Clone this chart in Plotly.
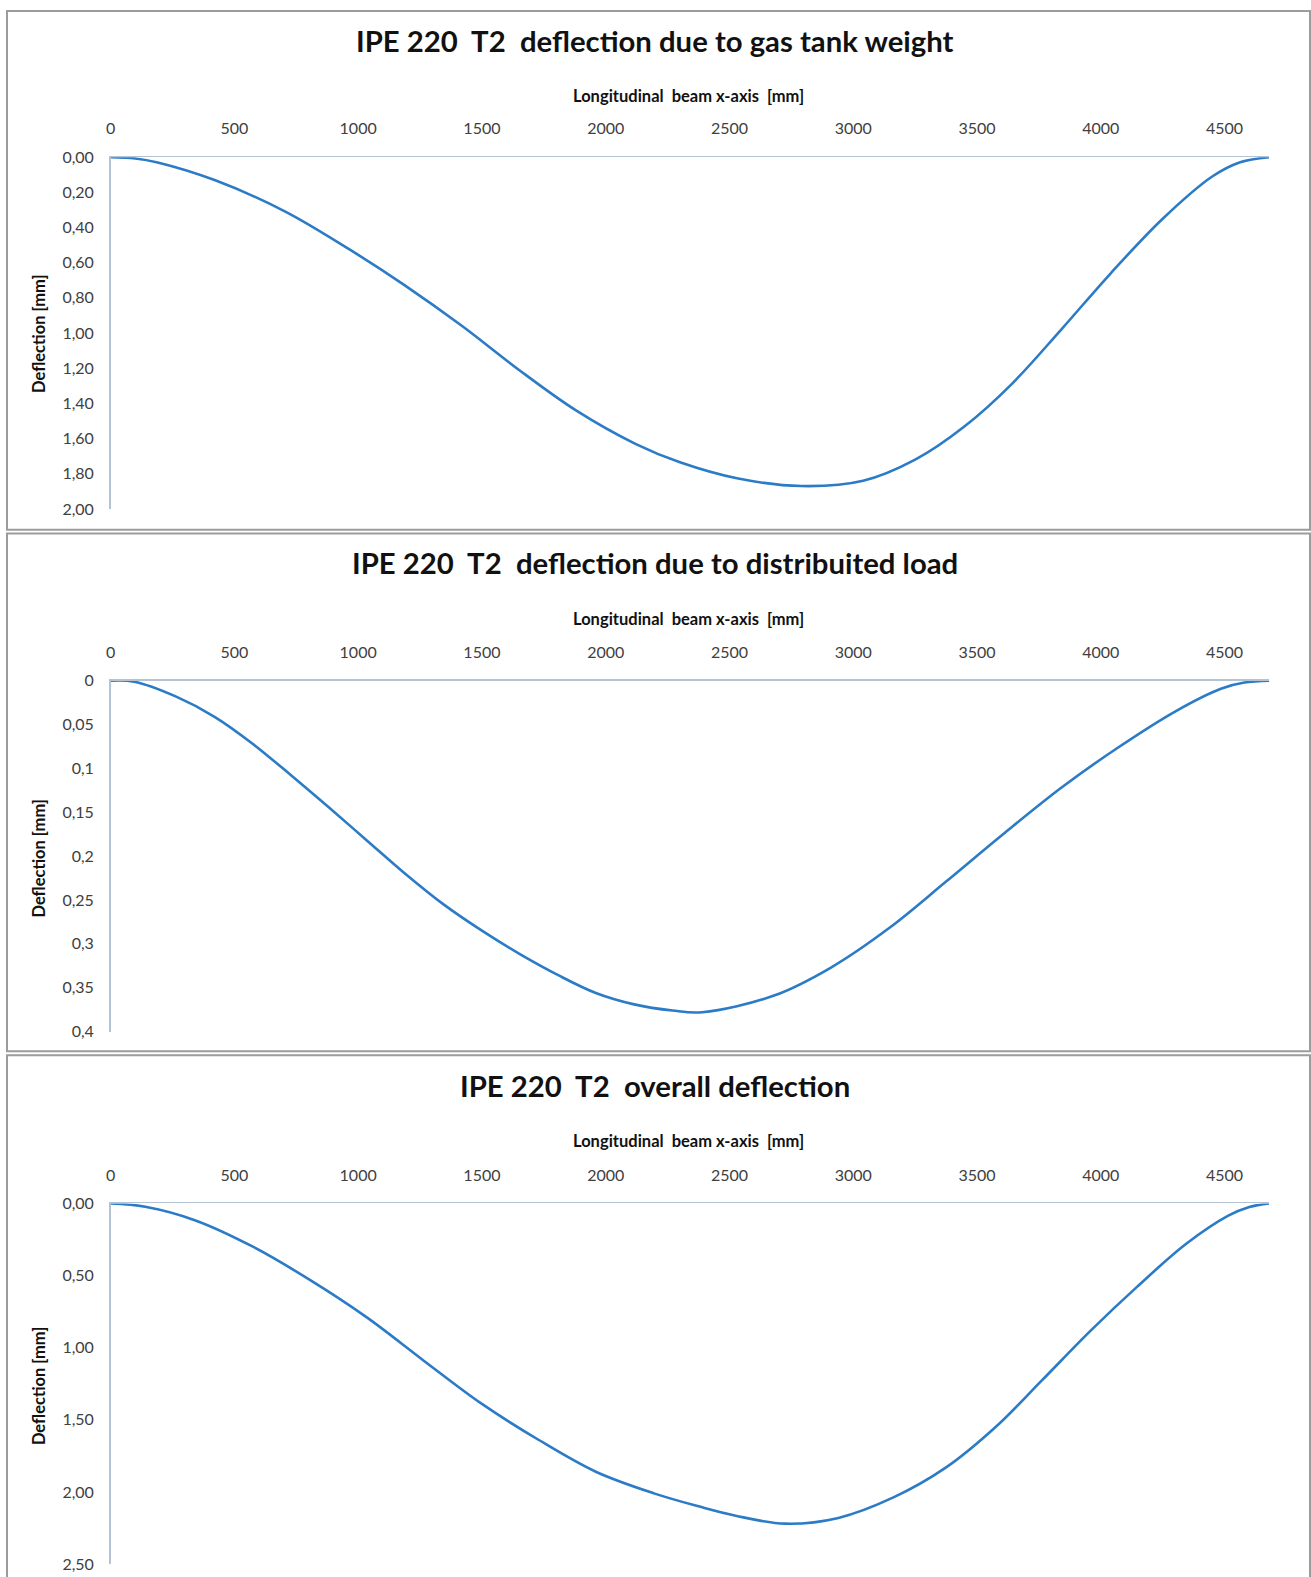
import plotly.graph_objects as go

# ---------------- data ----------------
x_gas = [0, 100, 190, 420, 700, 960, 1190, 1420, 1650, 1880, 2120, 2300, 2530, 2790,
         3040, 3250, 3450, 3640, 3840, 4040, 4250, 4450, 4560, 4680]
y_gas = [0, 0.007, 0.03, 0.13, 0.305, 0.52, 0.73, 0.96, 1.21, 1.44, 1.63, 1.735, 1.826, 1.87,
         1.84, 1.72, 1.53, 1.29, 0.98, 0.66, 0.35, 0.11, 0.03, 0]

x_dist = [0, 95, 265, 420, 575, 730, 880, 1035, 1190, 1345, 1500, 1655, 1810, 1960, 2115,
          2270, 2390, 2680, 2910, 3145, 3375, 3605, 3840, 4070, 4300, 4485, 4580, 4680]
y_dist = [0, 0.001, 0.018, 0.041, 0.072, 0.108, 0.144, 0.182, 0.220, 0.255, 0.285, 0.312,
          0.336, 0.356, 0.369, 0.376, 0.378, 0.359, 0.327, 0.282, 0.229, 0.175, 0.122,
          0.076, 0.035, 0.009, 0.002, 0]

x_all = [0, 140, 340, 575, 805, 1035, 1265, 1500, 1730, 1960, 2195, 2375, 2525, 2725, 2940,
         3160, 3375, 3575, 3760, 3960, 4145, 4345, 4515, 4600, 4680]
y_all = [0, 0.023, 0.116, 0.30, 0.53, 0.79, 1.09, 1.39, 1.64, 1.86, 2.01, 2.10, 2.165, 2.22,
         2.18, 2.04, 1.83, 1.55, 1.23, 0.88, 0.58, 0.28, 0.085, 0.025, 0]

x_ticks = [0, 500, 1000, 1500, 2000, 2500, 3000, 3500, 4000, 4500]

y1_ticks = [0, 0.2, 0.4, 0.6, 0.8, 1.0, 1.2, 1.4, 1.6, 1.8, 2.0]
y1_text = ["0,00", "0,20", "0,40", "0,60", "0,80", "1,00", "1,20", "1,40", "1,60", "1,80", "2,00"]
y2_ticks = [0, 0.05, 0.1, 0.15, 0.2, 0.25, 0.3, 0.35, 0.4]
y2_text = ["0", "0,05", "0,1", "0,15", "0,2", "0,25", "0,3", "0,35", "0,4"]
y3_ticks = [0, 0.5, 1.0, 1.5, 2.0, 2.5]
y3_text = ["0,00", "0,50", "1,00", "1,50", "2,00", "2,50"]

titles = ["IPE 220\u00a0 T2\u00a0 deflection due to gas tank weight",
          "IPE 220\u00a0 T2\u00a0 deflection due to distribuited load",
          "IPE 220\u00a0 T2\u00a0 overall deflection"]
x_title = "Longitudinal\u00a0 beam x-axis\u00a0 [mm]"
y_title = "Deflection [mm]"

# ---------------- styling / layout ----------------
W, H = 1311, 1577
FONT = "Lato"
LINE_COLOR = "#2b7bc6"
AXIS_COLOR = "#b3c3d3"
TICK_COLOR = "#404040"
X_MAX = 4680

def py(p):
    return 1 - p / H

def px(p):
    return p / W

x_dom = [px(106), px(1269)]
y_doms = [[py(505), py(149)], [py(1034), py(679)], [py(1573), py(1208)]]
y_ranges = [[2.0, 0], [0.4, 0], [2.5, 0]]
y_tick_sets = [(y1_ticks, y1_text), (y2_ticks, y2_text), (y3_ticks, y3_text)]
series = [(x_gas, y_gas), (x_dist, y_dist), (x_all, y_all)]

fig = go.Figure()
layout = dict(
    width=W, height=H,
    margin=dict(l=0, r=0, t=0, b=0),
    paper_bgcolor="white", plot_bgcolor="white",
    showlegend=False,
    font=dict(family=FONT, color=TICK_COLOR),
)

annotations = []
shapes = []
panel_boxes = [(1, 526), (530, 1054), (1058, 1600)]
title_y = [31, 559, 1089]
xtitle_y = [87, 616, 1145]
ytitle_y = [327, 858, 1392]

for i in range(3):
    n = "" if i == 0 else str(i + 1)
    xs, ys = series[i]
    fig.add_trace(go.Scatter(
        x=xs, y=ys, mode="lines",
        line=dict(color=LINE_COLOR, width=2.6, shape="spline", smoothing=1.0),
        xaxis="x" + n, yaxis="y" + n, hoverinfo="skip"))

    layout["xaxis" + n] = dict(
        domain=x_dom, anchor="y" + n, side="top", range=[0, X_MAX],
        tickvals=x_ticks, ticktext=[str(v) for v in x_ticks],
        showgrid=False, zeroline=False, showline=True, linecolor=AXIS_COLOR, linewidth=1.5,
        ticks="", ticklabelstandoff=15,
        tickfont=dict(family=FONT, size=16, color=TICK_COLOR))
    tv, tt = y_tick_sets[i]
    layout["yaxis" + n] = dict(
        domain=y_doms[i], anchor="x" + n, range=y_ranges[i],
        tickvals=tv, ticktext=tt,
        showgrid=False, zeroline=False, showline=True, linecolor=AXIS_COLOR, linewidth=1.5,
        ticks="", ticklabelstandoff=12,
        tickfont=dict(family=FONT, size=16, color=TICK_COLOR))

    annotations.append(dict(
        text="<b>" + titles[i] + "</b>", x=px(652), y=py(title_y[i]),
        xref="paper", yref="paper", xanchor="center", yanchor="middle",
        showarrow=False, font=dict(family=FONT, size=29.3, color="#111111")))
    annotations.append(dict(
        text="<b>" + x_title + "</b>", x=px(686), y=py(xtitle_y[i]),
        xref="paper", yref="paper", xanchor="center", yanchor="middle",
        showarrow=False, font=dict(family=FONT, size=16.5, color="#111111")))
    annotations.append(dict(
        text="<b>" + y_title + "</b>", x=px(34), y=py(ytitle_y[i]), textangle=-90,
        xref="paper", yref="paper", xanchor="center", yanchor="middle",
        showarrow=False, font=dict(family=FONT, size=16.5, color="#111111")))

    top, bot = panel_boxes[i]
    shapes.append(dict(
        type="rect", xref="paper", yref="paper",
        x0=px(2), x1=px(1310), y0=py(bot), y1=py(top),
        line=dict(color="#9c9c9c", width=2), fillcolor="rgba(0,0,0,0)", layer="below"))

layout["annotations"] = annotations
layout["shapes"] = shapes
fig.update_layout(**layout)

fig.write_html(
    "out.html",
    config={"displayModeBar": False, "staticPlot": True},
    post_script="document.body.style.margin='0';document.body.style.padding='0';"
                "document.body.style.overflow='hidden';",
)
